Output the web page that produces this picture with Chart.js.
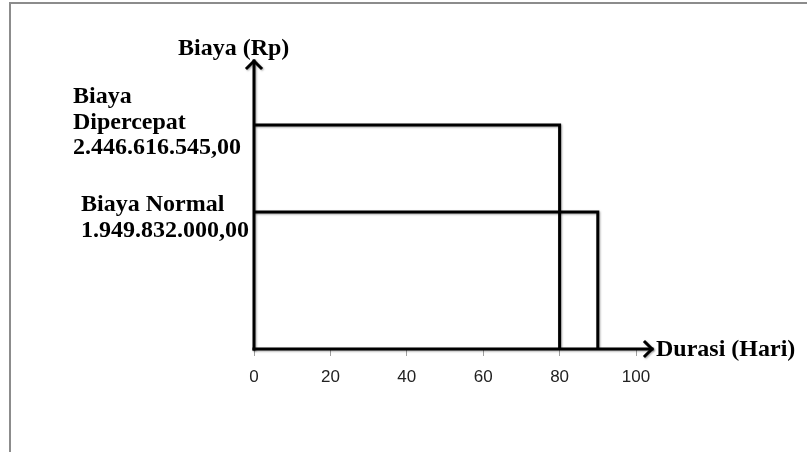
<!DOCTYPE html>
<html>
<head>
<meta charset="utf-8">
<script src="https://cdn.jsdelivr.net/npm/chart.js@4.4.0/dist/chart.umd.min.js"></script>
<style>
  html, body { margin: 0; padding: 0; background: #fff; }
  #wrap { width: 807px; height: 452px; position: relative; }
</style>
</head>
<body>
<div id="wrap"><canvas id="chart"></canvas></div>
<script>
// data
const seriesNames = ['Biaya Normal', 'Biaya Dipercepat'];
const durasiHari = [90, 80];
const biayaRp = [1949832000, 2446616545];
const biayaText = ['1.949.832.000,00', '2.446.616.545,00'];
const xTicks = [0, 20, 40, 60, 80, 100];

// y scale range (axis has no labels, just placement)
const yMin = 1168000000;
const yMax = 2818000000;

// each series: from the y axis, across to its duration, then down to the x axis
const datasets = seriesNames.map((name, i) => ({
    label: name,
    data: [
        { x: 0, y: biayaRp[i] },
        { x: durasiHari[i], y: biayaRp[i] },
        { x: durasiHari[i], y: yMin }
    ],
    showLine: true,
    borderColor: '#000',
    borderWidth: 3,
    pointRadius: 0,
    fill: false,
    tension: 0
}));

const serifBold = 'bold 24px "Liberation Serif", "Times New Roman", serif';

// frame, axes with arrows, and the text labels
const decorPlugin = {
    id: 'decor',
    beforeDraw(chart) {
        const ctx = chart.ctx;
        ctx.save();
        ctx.strokeStyle = '#8c8c8c';
        ctx.lineWidth = 2;
        ctx.strokeRect(10, 3, 900, 600);
        ctx.restore();
    },
    beforeDatasetsDraw(chart) {
        const ctx = chart.ctx;
        ctx.save();
        ctx.shadowColor = 'rgba(0,0,0,0.35)';
        ctx.shadowBlur = 2;
        ctx.shadowOffsetX = 1;
        ctx.shadowOffsetY = 1;
    },
    afterDatasetsDraw(chart) {
        const ctx = chart.ctx;
        ctx.restore();
        const a = chart.chartArea;
        const ys = chart.scales.y;

        ctx.save();
        ctx.shadowColor = 'rgba(0,0,0,0.35)';
        ctx.shadowBlur = 2;
        ctx.shadowOffsetX = 1;
        ctx.shadowOffsetY = 1;
        ctx.strokeStyle = '#000';
        ctx.lineWidth = 3;
        ctx.lineCap = 'square';
        ctx.lineJoin = 'miter';
        // y axis
        ctx.beginPath();
        ctx.moveTo(a.left, a.bottom);
        ctx.lineTo(a.left, a.top + 1);
        ctx.stroke();
        ctx.beginPath();
        ctx.moveTo(a.left - 7, a.top + 8);
        ctx.lineTo(a.left, a.top + 1);
        ctx.lineTo(a.left + 7, a.top + 8);
        ctx.stroke();
        // x axis
        const xEnd = a.right + 17;
        ctx.beginPath();
        ctx.moveTo(a.left, a.bottom);
        ctx.lineTo(xEnd - 1, a.bottom);
        ctx.stroke();
        ctx.beginPath();
        ctx.moveTo(xEnd - 8, a.bottom - 7);
        ctx.lineTo(xEnd - 1, a.bottom);
        ctx.lineTo(xEnd - 8, a.bottom + 7);
        ctx.stroke();
        ctx.restore();

        ctx.save();
        ctx.fillStyle = '#000';
        ctx.font = serifBold;
        ctx.textBaseline = 'alphabetic';
        ctx.textAlign = 'left';
        // axis titles
        ctx.fillText('Biaya (Rp)', 178, 55);
        ctx.fillText('Durasi (Hari)', xEnd + 3, a.bottom + 7);
        // value labels
        const yN = ys.getPixelForValue(biayaRp[0]);
        const yD = ys.getPixelForValue(biayaRp[1]);
        ctx.fillText('Biaya', 73, yD - 22);
        ctx.fillText('Dipercepat', 73, yD + 4);
        ctx.fillText(biayaText[1], 73, yD + 29);
        ctx.fillText(seriesNames[0], 81, yN - 1);
        ctx.fillText(biayaText[0], 81, yN + 25);
        ctx.restore();
    }
};

new Chart(document.getElementById('chart'), {
    type: 'scatter',
    data: { datasets: datasets },
    options: {
        responsive: true,
        maintainAspectRatio: false,
        animation: false,
        layout: { padding: { left: 254, top: 60, right: 171, bottom: 0 } },
        plugins: {
            legend: { display: false },
            tooltip: { enabled: false }
        },
        scales: {
            x: {
                type: 'linear',
                min: 0,
                max: 100,
                afterBuildTicks(scale) {
                    scale.ticks = xTicks.map(v => ({ value: v }));
                },
                afterFit(scale) { scale.height = 103; },
                border: { display: false },
                grid: {
                    drawOnChartArea: false,
                    drawTicks: true,
                    tickLength: 7,
                    color: '#a0a0a0',
                    lineWidth: 1
                },
                ticks: {
                    padding: 11,
                    color: '#222',
                    maxRotation: 0,
                    font: { family: '"Liberation Sans", sans-serif', size: 17 }
                }
            },
            y: {
                type: 'linear',
                display: false,
                min: yMin,
                max: yMax
            }
        }
    },
    plugins: [decorPlugin]
});
</script>
</body>
</html>
